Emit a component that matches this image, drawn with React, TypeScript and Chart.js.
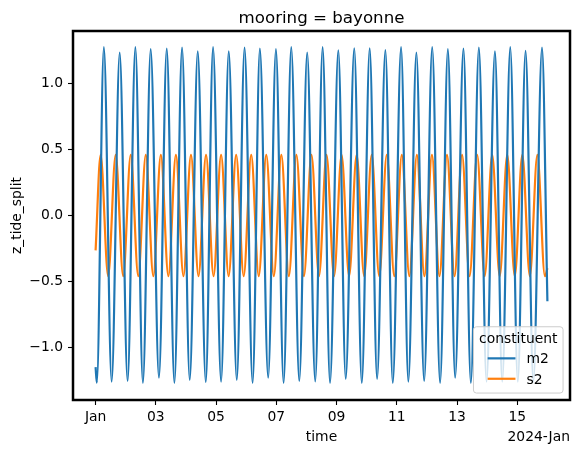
import React, { useEffect, useRef } from "react";
import { Chart, registerables } from "chart.js";

Chart.register(...registerables);

// ---- data (hours since 2024-01-01 00:00) ----
const m2Hours = [
  0, 1, 6.6, 12.8, 19.2, 25.5, 31.7, 37.7, 43.9, 50.5, 56.7, 62.8, 68.9, 75.0, 81.4, 87.8,
  93.6, 100.0, 106.1, 112.5, 118.7, 125.1, 130.9, 137.5, 143.7, 149.8, 155.9, 162.3, 168.6,
  175.0, 180.9, 186.8, 193.4, 199.3, 206.1, 212.1, 218.4, 224.3, 230.9, 236.8, 243.4, 249.2,
  255.6, 261.8, 268.2, 274.5, 280.7, 286.5, 293.1, 299.0, 305.4, 311.5, 318.2, 324.0, 330.4,
  336.4, 342.6, 348.8, 355.7, 360,
];
const m2Values = [
  -1.15, -1.269, 1.277, -1.261, 1.237, -1.256, 1.277, -1.271, 1.262, -1.231, 1.267, -1.271,
  1.274, -1.248, 1.246, -1.264, 1.277, -1.261, 1.246, -1.248, 1.274, -1.271, 1.267, -1.231,
  1.262, -1.271, 1.277, -1.256, 1.237, -1.259, 1.277, -1.271, 1.254, -1.239, 1.269, -1.271,
  1.269, -1.239, 1.256, -1.271, 1.277, -1.261, 1.237, -1.256, 1.277, -1.271, 1.262, -1.231,
  1.267, -1.271, 1.274, -1.26, 1.246, -1.26, 1.277, -1.26, 1.249, -1.26, 1.274, -0.65,
];
const s2Hours = [
  0, 4, 10, 16, 22, 28, 34, 40, 46, 52, 58, 64, 70, 76, 82, 88, 94, 100, 106, 112, 118, 124,
  130, 136, 142, 148, 154, 160, 166, 172, 178, 184, 190, 196, 202, 208, 214, 220, 226, 232,
  238, 244, 250, 256, 262, 268, 274, 280, 286, 292, 298, 304, 310, 316, 322, 328, 334, 340,
  346, 352, 358, 360,
];
const s2Values = [
  -0.265, 0.46, -0.46, 0.46, -0.46, 0.46, -0.46, 0.46, -0.46, 0.46, -0.46, 0.46, -0.46, 0.46,
  -0.46, 0.46, -0.46, 0.46, -0.46, 0.46, -0.46, 0.46, -0.46, 0.46, -0.46, 0.46, -0.46, 0.46,
  -0.46, 0.46, -0.46, 0.46, -0.46, 0.46, -0.46, 0.46, -0.46, 0.46, -0.46, 0.46, -0.46, 0.46,
  -0.46, 0.46, -0.46, 0.46, -0.46, 0.46, -0.46, 0.46, -0.46, 0.46, -0.46, 0.46, -0.46, 0.46,
  -0.46, 0.46, -0.46, 0.46, -0.46, -0.40,
];

const seriesNames = ["m2", "s2"];
const seriesColors = ["#1f77b4", "#ff7f0e"];
const xTickHours = [0, 48, 96, 144, 192, 240, 288, 336];
const xTickLabels = ["Jan", "03", "05", "07", "09", "11", "13", "15"];
const yTickValues = [-1, -0.5, 0, 0.5, 1];
const yTickLabels = ["\u22121.0", "\u22120.5", "0.0", "0.5", "1.0"];
const titleText = "mooring = bayonne";
const xLabelText = "time";
const yLabelText = "z_tide_split";
const offsetText = "2024-Jan";
const legendTitle = "constituent";

const FONT = "'DejaVu Sans', sans-serif";

const decorPlugin = {
  id: "decor",
  afterDraw(chart: any) {
    const { ctx, chartArea: a } = chart;
    ctx.save();
    // frame
    ctx.strokeStyle = "#000";
    ctx.lineWidth = 2.5;
    ctx.strokeRect(a.left, a.top, a.right - a.left, a.bottom - a.top);

    // title
    ctx.fillStyle = "#000";
    ctx.textAlign = "center";
    ctx.textBaseline = "alphabetic";
    ctx.font = `16.67px ${FONT}`;
    ctx.fillText(titleText, (a.left + a.right) / 2, a.top - 8.3);

    // x label + offset text
    ctx.font = `13.89px ${FONT}`;
    ctx.fillText(xLabelText, (a.left + a.right) / 2, 440.5);
    ctx.textAlign = "right";
    ctx.fillText(offsetText, a.right, 440.5);

    // y label
    ctx.save();
    ctx.translate(20.6, (a.top + a.bottom) / 2);
    ctx.rotate(-Math.PI / 2);
    ctx.textAlign = "center";
    ctx.fillText(yLabelText, 0, 0);
    ctx.restore();

    // legend
    const lx = a.right - 6.94 - 89.6;
    const ly = a.bottom - 6.94 - 66.3;
    const lw = 89.6;
    const lh = 66.3;
    ctx.beginPath();
    ctx.roundRect(lx, ly, lw, lh, 3);
    ctx.fillStyle = "rgba(255,255,255,0.8)";
    ctx.fill();
    ctx.strokeStyle = "#cccccc";
    ctx.lineWidth = 1;
    ctx.stroke();

    ctx.fillStyle = "#000";
    ctx.textAlign = "center";
    ctx.fillText(legendTitle, lx + lw / 2, ly + 16.6);
    ctx.textAlign = "left";
    const hx0 = lx + 14.2;
    const hx1 = hx0 + 27.8;
    seriesNames.forEach((name, i) => {
      const cy = ly + 31.6 + i * 20.4;
      ctx.strokeStyle = seriesColors[i];
      ctx.lineWidth = 2.2;
      ctx.beginPath();
      ctx.moveTo(hx0, cy);
      ctx.lineTo(hx1, cy);
      ctx.stroke();
      ctx.fillStyle = "#000";
      ctx.fillText(name, hx1 + 11.1, cy + 5);
    });
    ctx.restore();
  },
};

export default function App() {
  const ref = useRef<HTMLCanvasElement | null>(null);

  useEffect(() => {
    if (!ref.current) return;
    Chart.defaults.font.family = FONT;
    const chart = new Chart(ref.current, {
      type: "line",
      data: {
        datasets: [
          {
            label: seriesNames[0],
            data: m2Hours.map((h, i) => ({ x: h, y: m2Values[i] })),
            borderColor: seriesColors[0],
            borderWidth: 2.2,
            pointRadius: 0,
            cubicInterpolationMode: "monotone",
            fill: false,
          },
          {
            label: seriesNames[1],
            data: s2Hours.map((h, i) => ({ x: h, y: s2Values[i] })),
            borderColor: seriesColors[1],
            borderWidth: 2.2,
            pointRadius: 0,
            cubicInterpolationMode: "monotone",
            fill: false,
          },
        ],
      },
      options: {
        animation: false,
        responsive: false,
        devicePixelRatio: 1,
        layout: { padding: { top: 31, right: 9, bottom: 0, left: 0 } },
        plugins: {
          legend: { display: false },
          title: { display: false },
          tooltip: { enabled: false },
        },
        scales: {
          x: {
            type: "linear",
            min: -18,
            max: 378,
            afterBuildTicks: (s: any) => {
              s.ticks = xTickHours.map((v) => ({ value: v }));
            },
            afterFit: (s: any) => {
              s.height = 53;
            },
            ticks: {
              autoSkip: false,
              maxRotation: 0,
              minRotation: 0,
              color: "#000",
              padding: 4,
              font: { size: 13.89, family: FONT },
              callback: (v: any) => {
                const i = xTickHours.indexOf(Number(v));
                return i >= 0 ? xTickLabels[i] : "";
              },
            },
            grid: {
              drawOnChartArea: false,
              drawTicks: true,
              tickLength: 5,
              tickWidth: 1.1,
              tickColor: "#000",
            },
            border: { display: false },
          },
          y: {
            type: "linear",
            min: -1.4,
            max: 1.4,
            afterBuildTicks: (s: any) => {
              s.ticks = yTickValues.map((v) => ({ value: v }));
            },
            afterFit: (s: any) => {
              s.width = 73;
            },
            ticks: {
              color: "#000",
              padding: 5,
              font: { size: 13.89, family: FONT },
              callback: (v: any) => {
                const i = yTickValues.indexOf(Number(v));
                return i >= 0 ? yTickLabels[i] : "";
              },
            },
            grid: {
              drawOnChartArea: false,
              drawTicks: true,
              tickLength: 5,
              tickWidth: 1.1,
              tickColor: "#000",
            },
            border: { display: false },
          },
        },
      },
      plugins: [decorPlugin],
    } as any);
    return () => chart.destroy();
  }, []);

  return (
    <div style={{ position: "fixed", left: 0, top: 0, width: 579, height: 453, background: "#fff" }}>
      <canvas ref={ref} width={579} height={453} style={{ display: "block", width: 579, height: 453 }} />
    </div>
  );
}
